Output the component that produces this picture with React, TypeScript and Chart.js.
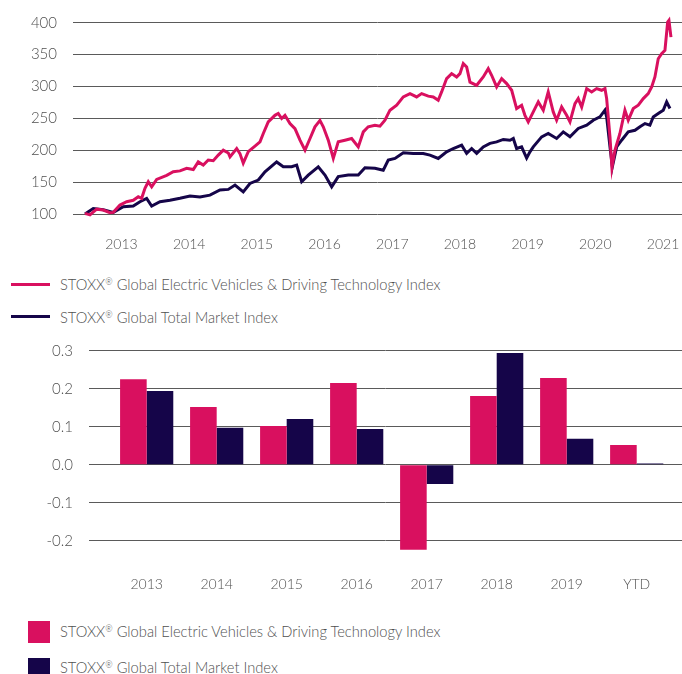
import React, { useEffect, useRef } from 'react';
import { Chart, registerables } from 'chart.js';

Chart.register(...registerables);

// ---------- data ----------
const seriesNames = [
  'STOXX® Global Electric Vehicles & Driving Technology Index',
  'STOXX® Global Total Market Index',
];

const yearTicks = [2013, 2014, 2015, 2016, 2017, 2018, 2019, 2020, 2021];
const levelTicks = [100, 150, 200, 250, 300, 350, 400];

// Electric Vehicles & Driving Technology index (decimal year, level)
const evDates = [
  2012.46, 2012.535, 2012.634, 2012.731, 2012.83, 2012.879, 2012.978, 2013.077, 2013.174, 2013.248,
  2013.298, 2013.347, 2013.396, 2013.446, 2013.52, 2013.668, 2013.765, 2013.864, 2013.963, 2014.061,
  2014.134, 2014.208, 2014.282, 2014.356, 2014.43, 2014.504, 2014.578, 2014.603, 2014.702, 2014.75,
  2014.799, 2014.873, 2014.972, 2015.046, 2015.095, 2015.168, 2015.267, 2015.316, 2015.366, 2015.415,
  2015.489, 2015.563, 2015.637, 2015.711, 2015.785, 2015.858, 2015.932, 2015.981, 2016.055, 2016.129,
  2016.202, 2016.301, 2016.4, 2016.498, 2016.572, 2016.645, 2016.744, 2016.818, 2016.892, 2016.966,
  2017.065, 2017.163, 2017.262, 2017.36, 2017.434, 2017.532, 2017.606, 2017.679, 2017.729, 2017.803,
  2017.877, 2017.951, 2018.0, 2018.049, 2018.099, 2018.148, 2018.247, 2018.344, 2018.418, 2018.468,
  2018.542, 2018.616, 2018.69, 2018.764, 2018.837, 2018.911, 2018.96, 2019.009, 2019.083, 2019.157,
  2019.231, 2019.304, 2019.378, 2019.428, 2019.502, 2019.576, 2019.625, 2019.699, 2019.747, 2019.798,
  2019.872, 2019.945, 2020.019, 2020.093, 2020.142, 2020.167, 2020.216, 2020.245, 2020.29, 2020.363,
  2020.437, 2020.486, 2020.56, 2020.634, 2020.708, 2020.781, 2020.832, 2020.88, 2020.929, 2020.979,
  2021.028, 2021.068, 2021.087, 2021.117,
];
const evLevels = [
  101.5, 99, 108, 106.7, 102.5, 103, 114.5, 119.7, 122, 127.5,
  125, 140.6, 151, 143, 154.7, 161, 166.6, 168, 172, 170,
  182, 177, 185, 184, 192.7, 200.5, 196, 190, 203, 195,
  180, 198, 206.7, 213.4, 226.5, 244.7, 255, 257.8, 250, 255,
  242, 234, 216, 200.5, 218.7, 237, 247, 237, 216, 187.5,
  213.4, 216, 218.7, 205.6, 229, 237, 239.5, 238, 247.3, 263,
  270.8, 283.8, 289, 283.8, 289, 285, 283.8, 278.6, 291.6, 312.5,
  320.3, 315, 320.3, 336, 330.6, 307, 302, 315, 328, 317.7,
  299.4, 312.5, 304.7, 294.2, 265.6, 270.8, 255, 244.7, 260.3, 276,
  263, 291.6, 260.3, 247.3, 268, 255, 244.7, 273.4, 281.2, 268,
  296.8, 291.6, 296.8, 294.2, 296.8, 281.2, 221.3, 173, 200.5, 226.5,
  263, 247.3, 265.6, 270.8, 281.2, 289, 299.4, 315, 343.6, 351.5,
  356.7, 401, 403.6, 377.5,
];

// Total Market index (decimal year, level)
const tmDates = [
  2012.461, 2012.583, 2012.731, 2012.879, 2013.027, 2013.174, 2013.273, 2013.372, 2013.446, 2013.569,
  2013.716, 2013.864, 2014.012, 2014.16, 2014.307, 2014.455, 2014.578, 2014.677, 2014.799, 2014.898,
  2015.021, 2015.12, 2015.292, 2015.39, 2015.514, 2015.588, 2015.662, 2015.759, 2015.907, 2016.006,
  2016.105, 2016.202, 2016.35, 2016.498, 2016.597, 2016.744, 2016.867, 2016.941, 2017.04, 2017.163,
  2017.31, 2017.458, 2017.557, 2017.679, 2017.803, 2017.901, 2018.025, 2018.099, 2018.173, 2018.247,
  2018.344, 2018.443, 2018.542, 2018.64, 2018.739, 2018.788, 2018.837, 2018.911, 2018.985, 2019.034,
  2019.083, 2019.207, 2019.304, 2019.428, 2019.526, 2019.625, 2019.747, 2019.872, 2019.969, 2020.068,
  2020.142, 2020.167, 2020.216, 2020.251, 2020.315, 2020.388, 2020.486, 2020.585, 2020.659, 2020.733,
  2020.806, 2020.855, 2020.929, 2021.003, 2021.053, 2021.102,
];
const tmLevels = [
  100.5, 109, 107, 103, 112, 113, 119.7, 125, 113, 119.7,
  122, 125, 128.6, 127, 130, 138, 139, 145.8, 135, 148.3,
  153.6, 166.6, 182, 174.4, 174.4, 177, 151, 161.4, 174.4, 161.4,
  143, 159, 161.4, 161.4, 173, 172, 169, 184.8, 187.5, 196.3,
  195.3, 195.3, 192.7, 187.5, 197.8, 203, 208.3, 195.3, 203, 195.3,
  205.6, 211, 213.4, 217.2, 216, 218.7, 203, 205.6, 188, 197.8,
  205.6, 221.3, 226.5, 218.7, 229, 221.3, 234.4, 239.5, 247.3, 252.5,
  263, 252.5, 205.6, 174.4, 205.6, 216, 229, 231.6, 237, 242,
  239.5, 252.5, 257.8, 263, 276, 265.6,
];

// Annual returns
const barCategories = ['2013', '2014', '2015', '2016', '2017', '2018', '2019', 'YTD'];
const evReturns = [0.225, 0.152, 0.102, 0.215, -0.224, 0.181, 0.228, 0.052];
const tmReturns = [0.194, 0.097, 0.12, 0.094, -0.051, 0.294, 0.068, 0.003];
const returnTicks = [-0.2, -0.1, 0, 0.1, 0.2, 0.3];

// ---------- styles ----------
const PINK = '#d9105f';
const NAVY = '#150549';
const GRID = '#5a5a5a';
const TEXT = '#505050';
const FONT_FAMILY = 'Lato, "Open Sans", sans-serif';

function fixVertical(width: number) {
  return (s: any) => {
    s.width = width;
    s.paddingTop = 0;
    s.paddingBottom = 0;
  };
}
function fixHorizontal(height: number) {
  return (s: any) => {
    s.height = height;
    s.paddingLeft = 0;
    s.paddingRight = 0;
  };
}

function LineChart() {
  const ref = useRef<HTMLCanvasElement>(null);
  useEffect(() => {
    const chart = new Chart(ref.current as HTMLCanvasElement, {
      type: 'line',
      data: {
        datasets: [
          {
            label: seriesNames[0],
            data: evDates.map((x, i) => ({ x, y: evLevels[i] })),
            borderColor: PINK,
            backgroundColor: PINK,
            borderWidth: 3,
            pointRadius: 0,
            tension: 0,
            clip: false as any,
          },
          {
            label: seriesNames[1],
            data: tmDates.map((x, i) => ({ x, y: tmLevels[i] })),
            borderColor: NAVY,
            backgroundColor: NAVY,
            borderWidth: 3,
            pointRadius: 0,
            tension: 0,
            clip: false as any,
          },
        ],
      },
      options: {
        animation: false,
        responsive: false,
        maintainAspectRatio: false,
        layout: { padding: { top: 16, left: 0, right: 0, bottom: 0 } },
        plugins: { legend: { display: false }, tooltip: { enabled: false } },
        scales: {
          x: {
            type: 'linear',
            min: 2012.284,
            max: 2021.28,
            afterBuildTicks: (s: any) => {
              s.ticks = yearTicks.map((v) => ({ value: v }));
            },
            afterFit: fixHorizontal(39),
            grid: { display: false },
            border: { display: false },
            ticks: {
              padding: 7,
              autoSkip: false,
              maxRotation: 0,
              color: TEXT,
              font: { family: FONT_FAMILY, size: 14, weight: '300' as any },
              callback: (v: any) => String(v),
            },
          },
          y: {
            type: 'linear',
            min: 89.5,
            max: 410.5,
            afterBuildTicks: (s: any) => {
              s.ticks = levelTicks.map((v) => ({ value: v }));
            },
            afterFit: fixVertical(73),
            grid: { color: GRID, lineWidth: 1, drawTicks: false },
            border: { display: false },
            ticks: {
              padding: 16,
              color: TEXT,
              font: { family: FONT_FAMILY, size: 15, weight: '300' as any },
              callback: (v: any) => String(v),
            },
          },
        },
      },
    });
    return () => chart.destroy();
  }, []);
  return (
    <canvas
      ref={ref}
      width={682}
      height={260}
      style={{ position: 'absolute', left: 0, top: 0, width: 682, height: 260 }}
    />
  );
}

function BarChart() {
  const ref = useRef<HTMLCanvasElement>(null);
  useEffect(() => {
    const chart = new Chart(ref.current as HTMLCanvasElement, {
      type: 'bar',
      data: {
        datasets: [
          {
            label: seriesNames[0],
            data: evReturns.map((y, i) => ({ x: i, y })),
            backgroundColor: PINK,
            borderWidth: 0,
            categoryPercentage: 0.76,
            barPercentage: 1.0,
          },
          {
            label: seriesNames[1],
            data: tmReturns.map((y, i) => ({ x: i, y })),
            backgroundColor: NAVY,
            borderWidth: 0,
            categoryPercentage: 0.76,
            barPercentage: 1.0,
          },
        ],
      },
      options: {
        animation: false,
        responsive: false,
        maintainAspectRatio: false,
        layout: { padding: { top: 20.7, left: 0, right: 0, bottom: 0 } },
        plugins: { legend: { display: false }, tooltip: { enabled: false } },
        scales: {
          x: {
            type: 'linear',
            min: -0.824,
            max: 7.647,
            offset: false,
            afterBuildTicks: (s: any) => {
              s.ticks = barCategories.map((_, i) => ({ value: i }));
            },
            afterFit: fixHorizontal(28.9),
            grid: { display: false },
            border: { display: false },
            ticks: {
              padding: -3,
              autoSkip: false,
              maxRotation: 0,
              color: TEXT,
              font: { family: FONT_FAMILY, size: 14, weight: '300' as any },
              callback: (v: any) => barCategories[Math.round(Number(v))] ?? '',
            },
          },
          y: {
            type: 'linear',
            min: -0.28,
            max: 0.3,
            afterBuildTicks: (s: any) => {
              s.ticks = returnTicks.map((v) => ({ value: v }));
            },
            afterFit: fixVertical(89),
            grid: { color: GRID, lineWidth: 1, drawTicks: false },
            border: { display: false },
            ticks: {
              padding: 16,
              color: TEXT,
              font: { family: FONT_FAMILY, size: 15, weight: '300' as any },
              callback: (v: any) => Number(v).toFixed(1),
            },
          },
        },
      },
    });
    return () => chart.destroy();
  }, []);
  return (
    <canvas
      ref={ref}
      width={682}
      height={270}
      style={{ position: 'absolute', left: 0, top: 330, width: 682, height: 270 }}
    />
  );
}

const legendText: React.CSSProperties = {
  position: 'absolute',
  left: 60,
  height: 20,
  lineHeight: '20px',
  fontFamily: FONT_FAMILY,
  fontSize: 14.7,
  fontWeight: 300,
  color: TEXT,
  whiteSpace: 'nowrap',
};

function LegendLabel({ text }: { text: string }) {
  const parts = text.split('®');
  return (
    <>
      {parts.map((p, i) => (
        <React.Fragment key={i}>
          {p}
          {i < parts.length - 1 && (
            <span style={{ fontSize: '0.6em', verticalAlign: '0.55em', lineHeight: 0 }}>®</span>
          )}
        </React.Fragment>
      ))}
    </>
  );
}

export default function App() {
  const lineRows = [284, 316.5];
  const barBoxes = [632, 669];
  const barTexts = [631, 666.5];
  const colors = [PINK, NAVY];
  return (
    <div
      style={{
        position: 'absolute',
        left: 0,
        top: 0,
        width: 682,
        height: 674,
        overflow: 'hidden',
        background: '#ffffff',
      }}
    >
      <LineChart />
      {seriesNames.map((name, i) => (
        <React.Fragment key={'l' + i}>
          <div
            style={{
              position: 'absolute',
              left: 11,
              top: lineRows[i] - 1.5,
              width: 39,
              height: 3,
              background: colors[i],
            }}
          />
          <div style={{ ...legendText, top: lineRows[i] - 10 }}>
            <LegendLabel text={name} />
          </div>
        </React.Fragment>
      ))}
      <BarChart />
      {seriesNames.map((name, i) => (
        <React.Fragment key={'b' + i}>
          <div
            style={{
              position: 'absolute',
              left: 28,
              top: barBoxes[i] - 11,
              width: 22,
              height: 22,
              background: colors[i],
            }}
          />
          <div style={{ ...legendText, top: barTexts[i] - 10 }}>
            <LegendLabel text={name} />
          </div>
        </React.Fragment>
      ))}
    </div>
  );
}
